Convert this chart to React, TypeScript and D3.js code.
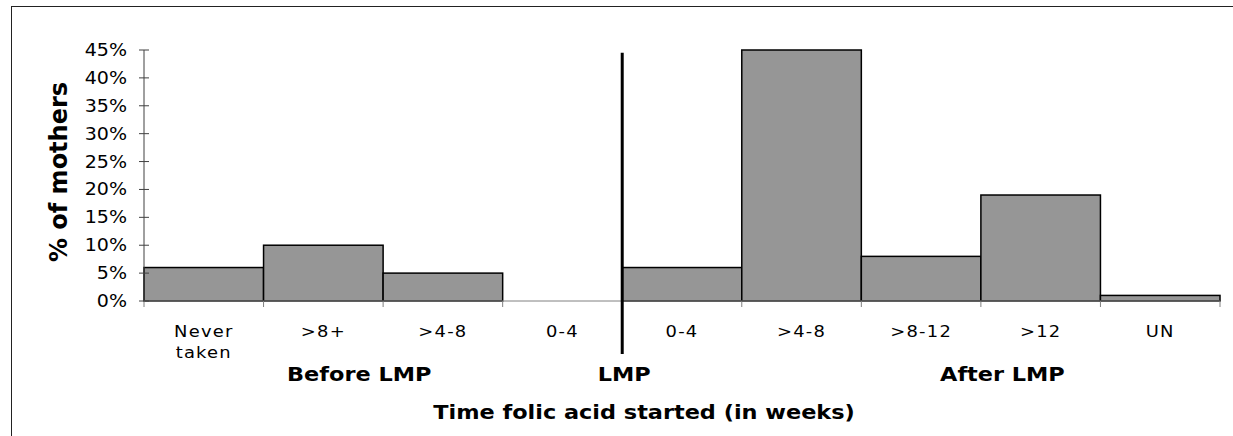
import React from "react";
import * as d3 from "d3";

// Time at which folic acid was started, relative to the last menstrual period
const categories = ["Never\ntaken", ">8+", ">4-8", "0-4", "0-4", ">4-8", ">8-12", ">12", "UN"];
const percentMothers = [6, 10, 5, 0, 6, 45, 8, 19, 1];
const yTicks = [0, 5, 10, 15, 20, 25, 30, 35, 40, 45];
const groupLabels = ["Before LMP", "LMP", "After LMP"];
const yTitle = "% of mothers";
const xTitle = "Time folic acid started (in weeks)";

const W = 1233;
const H = 436;
const margin = { left: 144, right: 13, top: 50, bottom: 135 };
const FONT = "'DejaVu Sans', Verdana, sans-serif";
const SX = 1.12;

function StretchText({ x, y, sx = SX, anchor = "middle", size, weight = "normal", children, rotate = 0, spacing = 0 }: any) {
  const t = rotate
    ? `translate(${x},${y}) rotate(${rotate})`
    : `translate(${x},${y}) scale(${sx},1)`;
  return (
    <text
      transform={t}
      textAnchor={anchor}
      fontFamily={FONT}
      fontSize={size}
      fontWeight={weight}
      letterSpacing={spacing}
      fill="#000"
    >
      {children}
    </text>
  );
}

export default function App() {
  const ids = categories.map((_, i) => String(i));
  const x = d3
    .scaleBand<string>()
    .domain(ids)
    .range([margin.left, W - margin.right])
    .padding(0);
  const y = d3
    .scaleLinear()
    .domain([0, 45])
    .range([H - margin.bottom, margin.top]);

  const y0 = y(0);
  const bw = x.bandwidth();
  // boundary between the before and after groups
  const lmpX = x("4")!;

  return (
    <svg
      width={W}
      height={H}
      style={{ position: "absolute", left: 0, top: 0, background: "#fff" }}
    >
      {/* frame */}
      <rect x={11.5} y={6.5} width={W + 20} height={H + 20} fill="none" stroke="#222" strokeWidth={1} />

      {/* bars */}
      {percentMothers.map((v, i) =>
        v > 0 ? (
          <rect
            key={i}
            x={x(ids[i])!}
            y={y(v)}
            width={bw}
            height={y0 - y(v)}
            fill="#969696"
            stroke="#000"
            strokeWidth={1.5}
          />
        ) : null
      )}

      {/* x axis */}
      <line x1={margin.left} x2={W - margin.right} y1={y0} y2={y0} stroke="#808080" strokeWidth={1} />
      {ids.map((id) => (
        <line key={id} x1={x(id)!} x2={x(id)!} y1={y0} y2={y0 + 6} stroke="#808080" strokeWidth={1} />
      ))}
      <line x1={W - margin.right} x2={W - margin.right} y1={y0} y2={y0 + 6} stroke="#808080" strokeWidth={1} />

      {/* y axis */}
      <line x1={margin.left} x2={margin.left} y1={y(45)} y2={y0} stroke="#404040" strokeWidth={1} />
      {yTicks.map((t) => (
        <g key={t}>
          <line x1={margin.left - 5} x2={margin.left + 5} y1={y(t)} y2={y(t)} stroke="#404040" strokeWidth={1} />
          <StretchText x={127} y={y(t) + 6} anchor="end" size={17}>
            {`${t}%`}
          </StretchText>
        </g>
      ))}

      {/* category labels */}
      {categories.map((c, i) => {
        const cx = x(ids[i])! + bw / 2;
        return c.split("\n").map((line, j) => (
          <StretchText key={`${i}-${j}`} x={cx} y={337 + j * 21} size={16} spacing={1.1}>
            {line}
          </StretchText>
        ));
      })}

      {/* LMP marker */}
      <line x1={lmpX} x2={lmpX} y1={y(44.5)} y2={354} stroke="#000" strokeWidth={3} />

      {/* group labels */}
      <StretchText x={x("1")! + bw * 0.8} y={381} size={20} weight="bold">
        {groupLabels[0]}
      </StretchText>
      <StretchText x={lmpX + 2} y={381} size={20} weight="bold">
        {groupLabels[1]}
      </StretchText>
      <StretchText x={x("7")! + bw * 0.18} y={381} size={20} weight="bold">
        {groupLabels[2]}
      </StretchText>

      {/* axis titles */}
      <StretchText x={644} y={419} size={20} weight="bold">
        {xTitle}
      </StretchText>
      <StretchText x={67} y={172} size={24} weight="bold" rotate={-90}>
        {yTitle}
      </StretchText>
    </svg>
  );
}
